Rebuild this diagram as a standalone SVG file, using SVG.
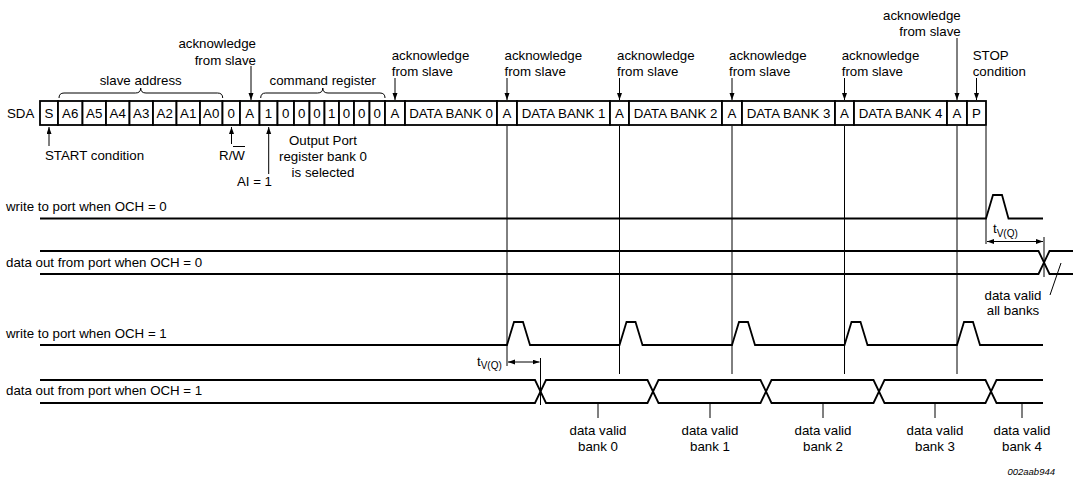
<svg xmlns="http://www.w3.org/2000/svg" width="1078" height="481" viewBox="0 0 1078 481">
<defs>
<marker id="ah" markerUnits="userSpaceOnUse" markerWidth="8" markerHeight="6" refX="7" refY="2.5" orient="auto-start-reverse">
<path d="M0,0 L7,2.5 L0,5 z" fill="#000"/>
</marker>
</defs>
<style>
text{font-family:"Liberation Sans",Arial,Helvetica,sans-serif;font-size:13.3px;fill:#000}
.c{text-anchor:middle}
.e{text-anchor:end}
.sub{font-size:10px}
.cell rect{fill:#fff;stroke:#000;stroke-width:1.8}
.wave{fill:none;stroke:#000;stroke-width:1.8}
.ref{fill:none;stroke:#000;stroke-width:1}
.arr{fill:none;stroke:#000;stroke-width:1;marker-end:url(#ah)}
.dbl{fill:none;stroke:#000;stroke-width:1;marker-start:url(#ah);marker-end:url(#ah)}
.brace{fill:none;stroke:#000;stroke-width:1}
.id{font-size:9.5px;font-style:italic}
</style>
<rect width="1078" height="481" fill="#fff"/>

<g id="sda-label"><text x="7" y="117.7">SDA</text></g>

<g id="sda-frame" class="cell">
<g id="cell-S"><rect x="40" y="101" width="18" height="24"/><text class="c" x="49" y="117.7">S</text></g>
<g id="cell-A6"><rect x="58" y="101" width="24.5" height="24"/><text class="c" x="70.25" y="117.7">A6</text></g>
<g id="cell-A5"><rect x="82.5" y="101" width="23.5" height="24"/><text class="c" x="94.25" y="117.7">A5</text></g>
<g id="cell-A4"><rect x="106" y="101" width="23.5" height="24"/><text class="c" x="117.75" y="117.7">A4</text></g>
<g id="cell-A3"><rect x="129.5" y="101" width="23.5" height="24"/><text class="c" x="141.25" y="117.7">A3</text></g>
<g id="cell-A2"><rect x="153" y="101" width="23.5" height="24"/><text class="c" x="164.75" y="117.7">A2</text></g>
<g id="cell-A1"><rect x="176.5" y="101" width="23.5" height="24"/><text class="c" x="188.25" y="117.7">A1</text></g>
<g id="cell-A0"><rect x="200" y="101" width="22.5" height="24"/><text class="c" x="211.25" y="117.7">A0</text></g>
<g id="cell-RW"><rect x="222.5" y="101" width="17.5" height="24"/><text class="c" x="231.25" y="117.7">0</text></g>
<g id="cell-ack1"><rect x="240" y="101" width="19.5" height="24"/><text class="c" x="249.75" y="117.7">A</text></g>
<g id="cell-c7"><rect x="259.5" y="101" width="18" height="24"/><text class="c" x="268.5" y="117.7">1</text></g>
<g id="cell-c6"><rect x="277.5" y="101" width="16.5" height="24"/><text class="c" x="285.75" y="117.7">0</text></g>
<g id="cell-c5"><rect x="294" y="101" width="15.5" height="24"/><text class="c" x="301.75" y="117.7">0</text></g>
<g id="cell-c4"><rect x="309.5" y="101" width="15" height="24"/><text class="c" x="317" y="117.7">0</text></g>
<g id="cell-c3"><rect x="324.5" y="101" width="14.5" height="24"/><text class="c" x="331.75" y="117.7">1</text></g>
<g id="cell-c2"><rect x="339" y="101" width="15" height="24"/><text class="c" x="346.5" y="117.7">0</text></g>
<g id="cell-c1"><rect x="354" y="101" width="15.5" height="24"/><text class="c" x="361.75" y="117.7">0</text></g>
<g id="cell-c0"><rect x="369.5" y="101" width="15.5" height="24"/><text class="c" x="377.25" y="117.7">0</text></g>
<g id="cell-ack2"><rect x="385" y="101" width="20" height="24"/><text class="c" x="395" y="117.7">A</text></g>
<g id="cell-db0"><rect x="405" y="101" width="92" height="24"/><text class="c" x="451" y="117.7">DATA BANK 0</text></g>
<g id="cell-ack3"><rect x="497" y="101" width="20" height="24"/><text class="c" x="507" y="117.7">A</text></g>
<g id="cell-db1"><rect x="517" y="101" width="93" height="24"/><text class="c" x="563.5" y="117.7">DATA BANK 1</text></g>
<g id="cell-ack4"><rect x="610" y="101" width="19" height="24"/><text class="c" x="619.5" y="117.7">A</text></g>
<g id="cell-db2"><rect x="629" y="101" width="93" height="24"/><text class="c" x="675.5" y="117.7">DATA BANK 2</text></g>
<g id="cell-ack5"><rect x="722" y="101" width="20" height="24"/><text class="c" x="732" y="117.7">A</text></g>
<g id="cell-db3"><rect x="742" y="101" width="93" height="24"/><text class="c" x="788.5" y="117.7">DATA BANK 3</text></g>
<g id="cell-ack6"><rect x="835" y="101" width="19" height="24"/><text class="c" x="844.5" y="117.7">A</text></g>
<g id="cell-db4"><rect x="854" y="101" width="93" height="24"/><text class="c" x="900.5" y="117.7">DATA BANK 4</text></g>
<g id="cell-ack7"><rect x="947" y="101" width="20" height="24"/><text class="c" x="957" y="117.7">A</text></g>
<g id="cell-P"><rect x="967" y="101" width="19" height="24"/><text class="c" x="976.5" y="117.7">P</text></g>
</g>

<g id="braces">
<path class="brace" d="M59,98 Q59,93 64,93 H135.5 Q140.7,93 140.7,88 Q140.7,93 146,93 H217.5 Q222.7,93 222.7,98"/>
<path class="brace" d="M260.7,98 Q260.7,93 265.7,93 H317.5 Q322.8,93 322.8,88 Q322.8,93 328,93 H380 Q385,93 385,98"/>
</g>

<g id="labels-top">
<text class="c" x="140.7" y="85">slave address</text>
<text class="c" x="322.8" y="85">command register</text>
<text class="e" x="256" y="47.5">acknowledge</text>
<text class="e" x="256" y="65">from slave</text>
<text x="391.7" y="59.5">acknowledge</text>
<text x="391.7" y="76">from slave</text>
<text x="504.5" y="59.5">acknowledge</text>
<text x="504.5" y="76">from slave</text>
<text x="617" y="59.5">acknowledge</text>
<text x="617" y="76">from slave</text>
<text x="729" y="59.5">acknowledge</text>
<text x="729" y="76">from slave</text>
<text x="841.7" y="59.5">acknowledge</text>
<text x="841.7" y="76">from slave</text>
<text class="e" x="960.7" y="19.5">acknowledge</text>
<text class="e" x="960.7" y="36">from slave</text>
<text x="972.7" y="59.5">STOP</text>
<text x="972.7" y="76">condition</text>
</g>

<g id="labels-below">
<text x="45" y="160">START condition</text>
<text class="c" x="232" y="160">R/W</text>
<line x1="233" y1="146.5" x2="245" y2="146.5" stroke="#000" stroke-width="1"/>
<text class="c" x="323" y="145">Output Port</text>
<text class="c" x="323" y="160.5">register bank 0</text>
<text class="c" x="323" y="176.5">is selected</text>
<text class="e" x="272" y="185.5">AI = 1</text>
</g>

<g id="signal-names">
<text x="6" y="210.5">write to port when OCH = 0</text>
<text x="6" y="266.5">data out from port when OCH = 0</text>
<text x="6" y="337.5">write to port when OCH = 1</text>
<text x="6" y="394.5">data out from port when OCH = 1</text>
</g>

<g id="connectors">
<line class="arr" x1="251" y1="66" x2="251" y2="100"/>
<line class="arr" x1="395" y1="78" x2="395" y2="100"/>
<line class="arr" x1="507" y1="78" x2="507" y2="100"/>
<line class="arr" x1="619.5" y1="78" x2="619.5" y2="100"/>
<line class="arr" x1="732" y1="78" x2="732" y2="100"/>
<line class="arr" x1="844.5" y1="78" x2="844.5" y2="100"/>
<line class="arr" x1="957" y1="38" x2="957" y2="100"/>
<line class="arr" x1="976.5" y1="78" x2="976.5" y2="100"/>
<line class="arr" x1="49" y1="146" x2="49" y2="127"/>
<line class="arr" x1="231.5" y1="144" x2="231.5" y2="127"/>
<line class="arr" x1="268.7" y1="174" x2="268.7" y2="127"/>
<line class="ref" x1="507" y1="126" x2="507" y2="366"/>
<line class="ref" x1="619.5" y1="126" x2="619.5" y2="374"/>
<line class="ref" x1="732" y1="126" x2="732" y2="374"/>
<line class="ref" x1="844.5" y1="126" x2="844.5" y2="374"/>
<line class="ref" x1="957" y1="126" x2="957" y2="374"/>
<line class="ref" x1="986" y1="126" x2="986" y2="244"/>
<line class="ref" x1="1044" y1="237" x2="1044" y2="277"/>
<line class="ref" x1="540.5" y1="358" x2="540.5" y2="405"/>
<line class="dbl" x1="987" y1="241.5" x2="1043" y2="241.5"/>
<line class="dbl" x1="508" y1="362" x2="539.5" y2="362"/>
<line class="ref" x1="1050" y1="295" x2="1061" y2="263"/>
<line class="ref" x1="598" y1="403" x2="598" y2="418"/>
<line class="ref" x1="710" y1="403" x2="710" y2="418"/>
<line class="ref" x1="823" y1="403" x2="823" y2="418"/>
<line class="ref" x1="935" y1="403" x2="935" y2="418"/>
<line class="ref" x1="1022" y1="403" x2="1022" y2="418"/>
</g>

<g id="waveforms">
<path class="wave" d="M40,218.5 H986 L993,195 H1002 L1008.5,218.5 H1043"/>
<path class="wave" d="M40,251 H1038.5 L1049.5,274 H1073"/>
<path class="wave" d="M40,274 H1038.5 L1049.5,251 H1073"/>
<path class="wave" d="M40,345 H507 L514,322 H523 L530,345 H619.5 L626.5,322 H635.5 L642.5,345 H732 L739,322 H748 L755,345 H844.5 L851.5,322 H860.5 L867.5,345 H957 L964,322 H973 L980,345 H1043"/>
<path class="wave" d="M40,380 H535 L546,403 H647.5 L658.5,380 H760.5 L771.5,403 H873.5 L884.5,380 H985.5 L996.5,403 H1043"/>
<path class="wave" d="M40,403 H535 L546,380 H647.5 L658.5,403 H760.5 L771.5,380 H873.5 L884.5,403 H985.5 L996.5,380 H1043"/>
</g>

<g id="timing-labels">
<text x="993" y="233">t<tspan class="sub" dy="3.5">V(Q)</tspan></text>
<text x="477" y="366">t<tspan class="sub" dy="3">V(Q)</tspan></text>
<text class="c" x="1013" y="299.5">data valid</text>
<text class="c" x="1013" y="314.5">all banks</text>
<text class="c" x="598" y="434.8">data valid</text>
<text class="c" x="598" y="450.5">bank 0</text>
<text class="c" x="710" y="434.8">data valid</text>
<text class="c" x="710" y="450.5">bank 1</text>
<text class="c" x="823" y="434.8">data valid</text>
<text class="c" x="823" y="450.5">bank 2</text>
<text class="c" x="935" y="434.8">data valid</text>
<text class="c" x="935" y="450.5">bank 3</text>
<text class="c" x="1022" y="434.8">data valid</text>
<text class="c" x="1022" y="450.5">bank 4</text>
<text class="id e" x="1055" y="475">002aab944</text>
</g>
</svg>
